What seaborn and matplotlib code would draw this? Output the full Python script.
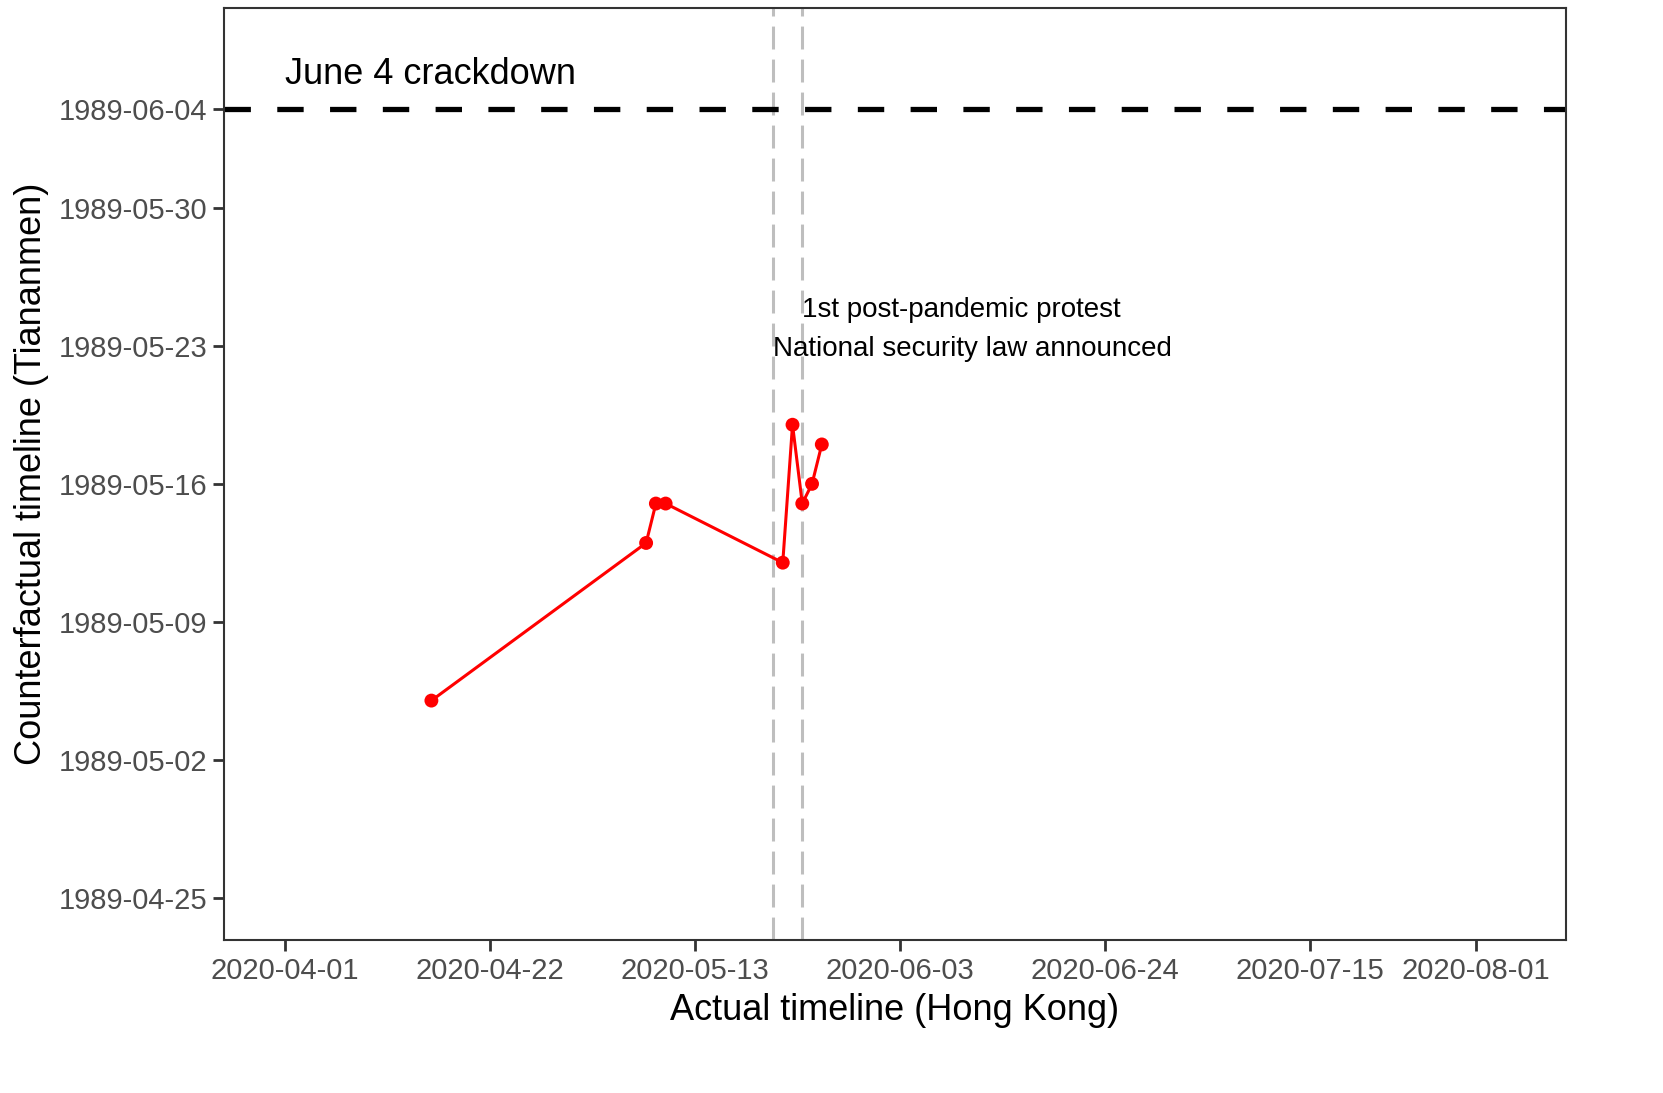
import matplotlib
matplotlib.use("Agg")
import matplotlib.pyplot as plt
import seaborn as sns
import pandas as pd

# ---------------- data ----------------
actual_dates = ["2020-04-16", "2020-05-08", "2020-05-09", "2020-05-10",
                "2020-05-22", "2020-05-23", "2020-05-24", "2020-05-25", "2020-05-26"]
counterfactual_dates = ["1989-05-05", "1989-05-13", "1989-05-15", "1989-05-15",
                        "1989-05-12", "1989-05-19", "1989-05-15", "1989-05-16", "1989-05-18"]

event_dates = ["2020-05-21", "2020-05-24"]
event_labels = ["National security law announced", "1st post-pandemic protest"]
event_label_y = ["1989-05-23", "1989-05-25"]

crackdown_date = "1989-06-04"
crackdown_label = "June 4 crackdown"
crackdown_label_x = "2020-04-01"
crackdown_label_y = "1989-06-06"

x_ticks = ["2020-04-01", "2020-04-22", "2020-05-13", "2020-06-03",
           "2020-06-24", "2020-07-15", "2020-08-01"]
y_ticks = ["1989-04-25", "1989-05-02", "1989-05-09", "1989-05-16",
           "1989-05-23", "1989-05-30", "1989-06-04"]
x_limits = ["2020-04-01", "2020-08-04"]
y_limits = ["1989-04-25", "1989-06-07"]

x_title = "Actual timeline (Hong Kong)"
y_title = "Counterfactual timeline (Tiananmen)"

# ---------------- plot ----------------
df = pd.DataFrame({"actual": pd.to_datetime(actual_dates),
                   "counterfactual": pd.to_datetime(counterfactual_dates)})

sns.set_theme(style="ticks")
plt.rcParams['font.family'] = ['Liberation Sans', 'DejaVu Sans']

W, H = 1663, 1093
fig = plt.figure(figsize=(W / 100, H / 100), dpi=100)
ax = fig.add_axes([224 / W, 1 - 940 / H, (1566 - 224) / W, (940 - 8) / H])

for d in event_dates:
    ax.axvline(pd.Timestamp(d), color='#BEBEBE', lw=2.2,
               linestyle=(0, (7.5, 3.3)), zorder=1)
ax.axhline(pd.Timestamp(crackdown_date), color='black', lw=3.8,
           linestyle=(0, (5, 5)), zorder=2)

sns.lineplot(data=df, x='actual', y='counterfactual', color='red', lw=2.2,
             ax=ax, sort=False, estimator=None, zorder=3)
sns.scatterplot(data=df, x='actual', y='counterfactual', color='red', s=100,
                edgecolor='none', linewidth=0, ax=ax, zorder=4)

for d, lab, yy in zip(event_dates, event_labels, event_label_y):
    ax.text(pd.Timestamp(d), pd.Timestamp(yy), lab, ha='left',
            va='center_baseline', fontsize=20, color='black', zorder=5)
ax.text(pd.Timestamp(crackdown_label_x), pd.Timestamp(crackdown_label_y),
        crackdown_label, ha='left', va='center_baseline', fontsize=26,
        color='black', zorder=5)

# limits with 5% expansion
xl = pd.to_datetime(x_limits)
yl = pd.to_datetime(y_limits)
xe = (xl[1] - xl[0]) * 0.05
ye = (yl[1] - yl[0]) * 0.05
ax.set_xlim(xl[0] - xe, xl[1] + xe)
ax.set_ylim(yl[0] - ye, yl[1] + ye)

ax.set_xticks(pd.to_datetime(x_ticks))
ax.set_xticklabels(x_ticks)
ax.set_yticks(pd.to_datetime(y_ticks))
ax.set_yticklabels(y_ticks)

ax.tick_params(axis='both', length=8, width=2, color='#333333',
               labelsize=21, labelcolor='#4D4D4D', pad=4, direction='out',
               bottom=True, left=True, top=False, right=False)
for sp in ax.spines.values():
    sp.set_visible(True)
    sp.set_color('#333333')
    sp.set_linewidth(1.5)

ax.set_xlabel(x_title, fontsize=26, color='black', labelpad=6)
ax.set_ylabel(y_title, fontsize=26, color='black', labelpad=7)
ax.grid(False)

fig.savefig("out.png", dpi=100, facecolor='white')
